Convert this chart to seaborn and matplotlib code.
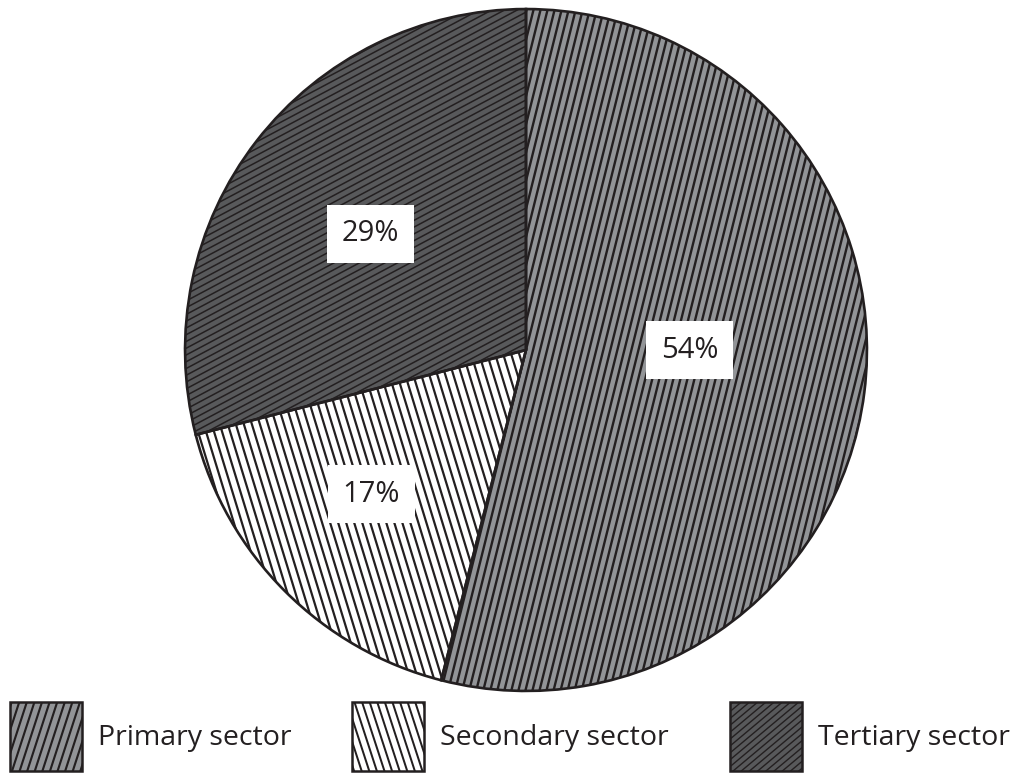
import numpy as np
import matplotlib
matplotlib.use('Agg')
import matplotlib.pyplot as plt
import seaborn as sns
from matplotlib.patches import Wedge, Rectangle
from matplotlib.collections import LineCollection
from matplotlib.legend_handler import HandlerBase

# data
sectors = ['Primary sector', 'Secondary sector', 'Tertiary sector']
shares = [54, 17, 29]

# style
ink = '#231f20'
face_colors = ['#929497', '#ffffff', '#58595b']
hatch_angles = [76, 107, 28]           # degrees from horizontal
hatch_steps = [0.020, 0.0225, 0.0175]  # spacing in pie radius units
hatch_lw = [1.7, 1.6, 1.1]
legend_angles = [72, 108, 40]
legend_steps = [5.2, 5.2, 3.8]         # spacing in points
label_dist = [0.48, 0.62, 0.57]
label_turn = [7.2, -2, 1]              # degrees added to each label's angle


def hatch_segments(x0, y0, x1, y1, angle, step):
    t = np.deg2rad(angle)
    d = np.array([np.cos(t), np.sin(t)])
    n = np.array([-np.sin(t), np.cos(t)])
    c = np.array([(x0 + x1) / 2, (y0 + y1) / 2])
    half = np.hypot(x1 - x0, y1 - y0) / 2
    m = int(np.ceil(half / step)) + 1
    return [[c + i * step * n - half * d, c + i * step * n + half * d] for i in range(-m, m + 1)]


class HatchHandler(HandlerBase):
    def __init__(self, face, angle, step, lw):
        super().__init__()
        self.face, self.angle, self.step, self.lw = face, angle, step, lw

    def create_artists(self, legend, orig_handle, xdescent, ydescent, width, height, fontsize, trans):
        x0, y0 = -xdescent, -ydescent
        rect = Rectangle((x0, y0), width, height, facecolor=self.face, edgecolor='none', transform=trans)
        lc = LineCollection(hatch_segments(x0, y0, x0 + width, y0 + height, self.angle, self.step),
                            colors=ink, linewidths=self.lw, transform=trans)
        lc.set_clip_path(rect)
        border = Rectangle((x0, y0), width, height, fill=False, edgecolor=ink, linewidth=1.8, transform=trans)
        return [rect, lc, border]


sns.set_theme(style='white')
plt.rcParams['font.family'] = ['Open Sans', 'DejaVu Sans']

fig = plt.figure(figsize=(10.1, 7.73), dpi=100)
ax = fig.add_axes([168 / 1010, 65 / 773, 716 / 1010, 716 / 773])

wedges, texts, autotexts = ax.pie(
    shares, startangle=90, counterclock=False,
    colors=face_colors, wedgeprops=dict(linewidth=0),
    autopct=lambda p: f'{p:.0f}%', pctdistance=0.55,
    textprops=dict(fontsize=21, color=ink))

for w, ang, step, lw in zip(wedges, hatch_angles, hatch_steps, hatch_lw):
    cx, cy = w.center
    lc = LineCollection(hatch_segments(cx - 1, cy - 1, cx + 1, cy + 1, ang, step),
                        colors=ink, linewidths=lw, zorder=2)
    lc.set_clip_path(w)
    ax.add_collection(lc)
    ax.add_patch(Wedge(w.center, w.r, w.theta1, w.theta2, fill=False,
                       edgecolor=ink, linewidth=1.9, zorder=3, clip_on=False))

for w, t, d, turn in zip(wedges, autotexts, label_dist, label_turn):
    cx, cy = w.center
    x, y = t.get_position()
    a = np.arctan2(y - cy, x - cx) + np.deg2rad(turn)
    t.set_position((cx + d * np.cos(a), cy + d * np.sin(a)))
    t.set_bbox(dict(boxstyle='square,pad=0.5', facecolor='white', edgecolor='none'))
    t.set_zorder(5)

ax.set_xlim(-1.05, 1.05)
ax.set_ylim(-1.05, 1.05)
ax.set_aspect('equal')
ax.axis('off')

hmap = {w: HatchHandler(fc, a, s, lw * 0.9)
        for w, fc, a, s, lw in zip(wedges, face_colors, legend_angles, legend_steps, hatch_lw)}
fig.legend(wedges, sectors, handler_map=hmap, loc='lower left',
           bbox_to_anchor=(10 / 1010, 2 / 773), ncol=3, frameon=False, fontsize=20.5,
           handlelength=2.53, handleheight=3.35, handletextpad=0.55, columnspacing=2.15,
           borderpad=0, borderaxespad=0, labelcolor=ink)

fig.savefig('out.png', dpi=100, facecolor='white')
